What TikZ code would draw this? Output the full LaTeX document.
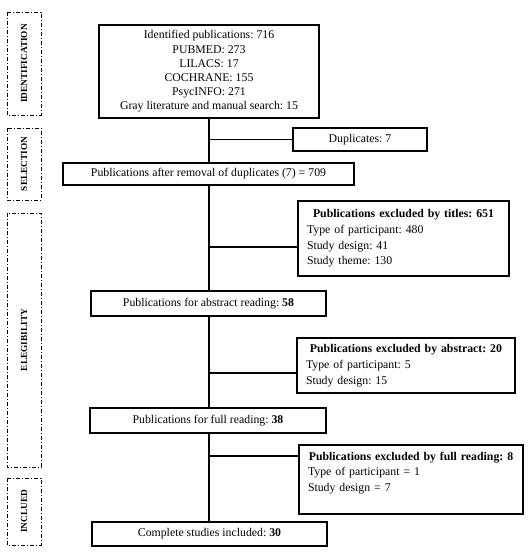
\documentclass[tikz,border=0pt]{standalone}
\usepackage{fontspec}
\setmainfont{Liberation Serif}
\begin{document}
\frenchspacing
\begin{tikzpicture}[x=1pt,y=-1pt,
  box/.style={draw, line width=1.8pt, fill=white, inner sep=0pt, align=center,
    font=\fontsize{11.8}{14.2}\selectfont},
  exbox/.style={draw, line width=1.8pt, fill=white, inner xsep=9pt, inner ysep=0pt, align=left,
    font=\fontsize{11.8}{15.7}\selectfont},
  sidebox/.style={draw, line width=0.7pt, dash pattern=on 4pt off 2pt on 1pt off 2pt,
    rotate=90, minimum height=34pt, inner sep=0pt, font=\fontsize{9.3}{10}\selectfont\bfseries},
  trunk/.style={line width=1.8pt}]
\useasboundingbox (0,0) rectangle (530,555);

% side stage labels
\node[sidebox, minimum width=103pt] (sid) at (24,63.5) {IDENTIFICATION};
\node[sidebox, minimum width=72pt] (ssel) at (24,164) {SELECTION};
\node[sidebox, minimum width=254pt] (self) at (24,340) {ELEGIBILITY};
\node[sidebox, minimum width=67pt] (sinc) at (24,511.5) {INCLUED};

% trunk branch points
\coordinate (b1) at (209,139.5);
\coordinate (b2) at (209,247);
\coordinate (b3) at (209,373);
\coordinate (b4) at (209,456);

\coordinate (cid) at (209,71.5);
\coordinate (ccomp) at (209,534);

% trunk lines (drawn first, boxes cover them)
\draw[trunk] (cid) -- (ccomp);
\draw[trunk] (b1) -- (360,139.5);
\draw[trunk] (b2) -- (403,247);
\draw[trunk] (b3) -- (406,373);
\draw[trunk] (b4) -- (411,456);

\node[box, minimum width=220pt, minimum height=93pt] (id) at (cid)
  {Identified publications: 716\\PUBMED: 273\\LILACS: 17\\COCHRANE: 155\\PsycINFO: 271\\Gray literature and manual search: 15};
\node[box, minimum width=134pt, minimum height=23pt] (dup) at (360,139.5) {Duplicates: 7};
\node[box, minimum width=291pt, minimum height=22pt] (pub) at (208.5,174) {Publications after removal of duplicates (7) = 709};
\node[exbox, text width=193pt, minimum height=75pt] (tit) at (403.5,238.5)
  {\makebox[\linewidth][c]{\textbf{Publications excluded by titles: 651}}\\Type of participant: 480\\Study design: 41\\Study theme: 130};
\node[box, minimum width=235pt, minimum height=25pt] (abs) at (208.5,303.5) {Publications for abstract reading: \textbf{58}};
\node[exbox, text width=200pt, minimum height=55pt] (exa) at (406,365.5)
  {\makebox[\linewidth][c]{\textbf{Publications excluded by abstract: 20}}\\Type of participant: 5\\Study design: 15};
\node[box, minimum width=236pt, minimum height=25pt] (full) at (208,420.5) {Publications for full reading: \textbf{38}};
\node[exbox, text width=206pt, minimum height=69pt] (exf) at (411,479.5)
  {\makebox[\linewidth][c]{\textbf{Publications excluded by full reading: 8}}\\Type of participant = 1\\Study design = 7\\\mbox{}};
\node[box, minimum width=235pt, minimum height=24pt] (comp) at (209.5,534) {Complete studies included: \textbf{30}};
\end{tikzpicture}
\end{document}
